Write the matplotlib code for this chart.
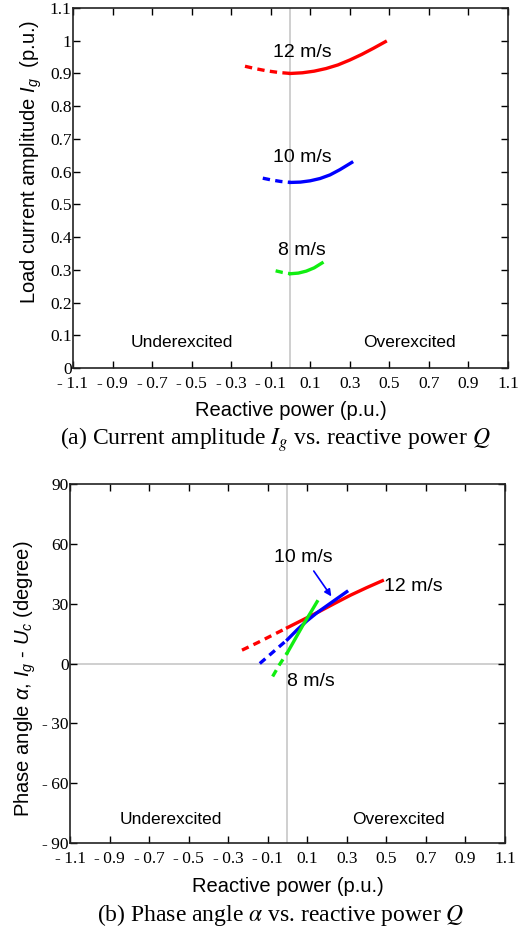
#Import libraries
import matplotlib
matplotlib.use("Agg")
import matplotlib.pyplot as plt
from matplotlib.ticker import FixedLocator, FixedFormatter

plt.rcParams['mathtext.fontset'] = 'custom'
plt.rcParams['mathtext.rm'] = 'Liberation Sans'
plt.rcParams['mathtext.it'] = 'Liberation Sans:italic'

#Data
x_ticks = [-1.1, -0.9, -0.7, -0.5, -0.3, -0.1, 0.1, 0.3, 0.5, 0.7, 0.9, 1.1]
x_labels = ["-\u20091.1", "-\u20090.9", "-\u20090.7", "-\u20090.5", "-\u20090.3", "-\u20090.1",
            "0.1", "0.3", "0.5", "0.7", "0.9", "1.1"]
ya_ticks = [0, 0.1, 0.2, 0.3, 0.4, 0.5, 0.6, 0.7, 0.8, 0.9, 1.0, 1.1]
ya_labels = ["0", "0.1", "0.2", "0.3", "0.4", "0.5", "0.6", "0.7", "0.8", "0.9", "1", "1.1"]
yb_ticks = [-90, -60, -30, 0, 30, 60, 90]
yb_labels = ["-\u200990", "-\u200960", "-\u200930", "0", "30", "60", "90"]

#(a) current amplitude
q12_a = [-0.23, -0.18, -0.12, -0.06, 0, 0.06, 0.12, 0.18, 0.24, 0.30, 0.36, 0.42, 0.48]
i12 = [0.922, 0.915, 0.908, 0.903, 0.900, 0.902, 0.907, 0.915, 0.926, 0.941, 0.958, 0.977, 0.997]
q10_a = [-0.14, -0.10, -0.05, 0, 0.05, 0.10, 0.15, 0.20, 0.25, 0.31]
i10 = [0.580, 0.575, 0.570, 0.567, 0.568, 0.572, 0.579, 0.590, 0.606, 0.628]
q8_a = [-0.075, -0.04, 0, 0.04, 0.08, 0.12, 0.16]
i8 = [0.297, 0.292, 0.288, 0.290, 0.296, 0.306, 0.321]

#(b) phase angle
q12_b = [-0.23, -0.15, -0.08, 0, 0.08, 0.16, 0.24, 0.32, 0.40, 0.48]
a12 = [6.7, 10.5, 14, 18, 22, 26, 30.2, 34.3, 38, 41.5]
q10_b = [-0.14, -0.07, 0, 0.05, 0.10, 0.15, 0.20, 0.25, 0.30]
a10 = [0, 6, 12, 17, 21.5, 25.5, 29, 32.5, 36]
q8_b = [-0.075, -0.04, 0, 0.04, 0.08, 0.12, 0.15]
a8 = [-6.5, -0.5, 5.5, 12.5, 19.5, 26, 31]

red = "#ff0000"
blue = "#0000ff"
green = "#11ee11"

def split_plot(ax, q, v, color):
    '''Dashed for negative Q, solid for positive Q.'''
    qn = [a for a in q if a <= 0]
    vn = [b for a, b in zip(q, v) if a <= 0]
    qp = [a for a in q if a >= 0]
    vp = [b for a, b in zip(q, v) if a >= 0]
    ax.plot(qn, vn, color=color, lw=2.4, ls=(0, (2.2, 1.6)), zorder=3)
    ax.plot(qp, vp, color=color, lw=2.4, zorder=3)

def style_axes(ax, yt, yl):
    ax.set_xlim(-1.1, 1.1)
    ax.xaxis.set_major_locator(FixedLocator(x_ticks))
    ax.xaxis.set_major_formatter(FixedFormatter(x_labels))
    ax.yaxis.set_major_locator(FixedLocator(yt))
    ax.yaxis.set_major_formatter(FixedFormatter(yl))
    ax.tick_params(direction='in', top=True, right=True, length=5, width=1,
                   labelsize=12.5, pad=1)
    ax.tick_params(axis='x', pad=6)
    for lab in ax.get_xticklabels() + ax.get_yticklabels():
        lab.set_fontfamily('Liberation Serif')
    for s in ax.spines.values():
        s.set_linewidth(1.2)
        s.set_color("#222222")
    ax.axvline(0, color="#cccccc", lw=1.3, zorder=1)

fig = plt.figure(figsize=(5.24, 9.30), dpi=100)
ax1 = fig.add_axes([0.1393, 0.6043, 0.830, 0.3871])
ax2 = fig.add_axes([0.1336, 0.0935, 0.830, 0.3861])

#Plot (a)
split_plot(ax1, q12_a, i12, red)
split_plot(ax1, q10_a, i10, blue)
split_plot(ax1, q8_a, i8, green)
style_axes(ax1, ya_ticks, ya_labels)
ax1.set_ylim(0, 1.1)
ax1.text(0.06, 0.963, "12 m/s", fontsize=14, family='Liberation Sans', ha='center', va='center')
ax1.text(0.06, 0.643, "10 m/s", fontsize=14, family='Liberation Sans', ha='center', va='center')
ax1.text(0.06, 0.36, "8 m/s", fontsize=14, family='Liberation Sans', ha='center', va='center')
ax1.text(-0.55, 0.077, "Underexcited", fontsize=12.5, family='Liberation Sans', ha='center', va='center')
ax1.text(0.6, 0.077, "Overexcited", fontsize=12.5, family='Liberation Sans', ha='center', va='center')
ax1.set_xlabel("Reactive power (p.u.)", fontsize=14.5, family='Liberation Sans', labelpad=6)
ax1.set_ylabel("Load current amplitude $I_g$  (p.u.)", fontsize=14.5, family='Liberation Sans')
ax1.yaxis.set_label_coords(-0.066, 0.572)

#Plot (b)
split_plot(ax2, q12_b, a12, red)
split_plot(ax2, q10_b, a10, blue)
split_plot(ax2, q8_b, a8, green)
style_axes(ax2, yb_ticks, yb_labels)
ax2.set_ylim(-90, 90)
ax2.axhline(0, color="#cccccc", lw=1.3, zorder=1)
ax2.text(0.49, 38.5, "12 m/s", fontsize=14, family='Liberation Sans', ha='left', va='center')
ax2.text(0.08, 53, "10 m/s", fontsize=14, family='Liberation Sans', ha='center', va='center')
ax2.annotate("", xy=(0.23, 32.5), xytext=(0.125, 47.5),
             arrowprops=dict(arrowstyle='-|>', color=blue, lw=1.2, mutation_scale=10))
ax2.text(0.12, -9, "8 m/s", fontsize=14, family='Liberation Sans', ha='center', va='center')
ax2.text(-0.59, -78, "Underexcited", fontsize=12.5, family='Liberation Sans', ha='center', va='center')
ax2.text(0.56, -78, "Overexcited", fontsize=12.5, family='Liberation Sans', ha='center', va='center')
ax2.set_xlabel("Reactive power (p.u.)", fontsize=14.5, family='Liberation Sans', labelpad=7)
ax2.set_ylabel("Phase angle $\\mathit{\\alpha}$, $I_g$ - $U_c$ (degree)", fontsize=14.5,
               family='Liberation Sans')
ax2.yaxis.set_label_coords(-0.073, 0.457)

#Captions
fig.text(0.525, 1 - 440 / 930, "(a) Current amplitude $I_g$ vs. reactive power $Q$",
         fontsize=17, family='Liberation Serif', math_fontfamily='stix', ha='center', va='center')
fig.text(0.535, 1 - 915 / 930, "(b) Phase angle $\\alpha$ vs. reactive power $Q$",
         fontsize=17, family='Liberation Serif', math_fontfamily='stix', ha='center', va='center')

plt.savefig("out.png", dpi=100)
